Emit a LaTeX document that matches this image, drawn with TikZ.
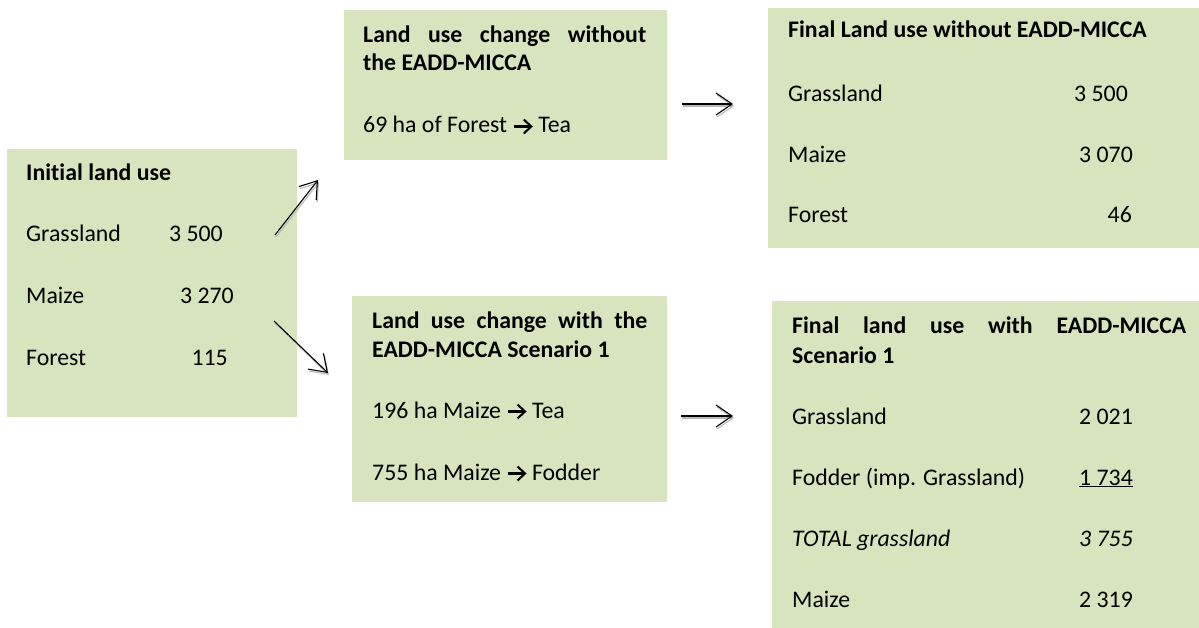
\documentclass[tikz,border=0pt]{standalone}
\usepackage{fontspec}
\setmainfont{Carlito}[Ligatures=NoCommon]
\usetikzlibrary{arrows.meta}
\definecolor{boxgreen}{HTML}{D7E4BD}
\newcommand{\rarr}{\hspace*{6pt}\tikz[x=1pt,y=1pt,baseline=0pt]{\draw[line width=2.1pt, line join=miter] (0,6.5)--(16,6.5); \draw[line width=2.1pt, line join=miter] (9.5,13.5)--(17,6.5)--(9.5,-0.5);}\hspace*{6pt}}
\newcommand{\ulnum}[1]{\underline{#1}}
\begin{document}
\begin{tikzpicture}[x=1pt,y=-1pt,
  box/.style={fill=boxgreen, draw=none, inner sep=0pt, outer sep=0pt, anchor=north west},
  txt/.style={anchor=base west, inner sep=0pt, font=\fontsize{23.8}{28}\selectfont},
  ttl/.style={txt, font=\fontsize{23.8}{28}\selectfont\bfseries},
  itx/.style={txt, font=\fontsize{23.8}{28}\selectfont\itshape},
  num/.style={anchor=base east, inner sep=0pt, font=\fontsize{23.8}{28}\selectfont},
  inum/.style={num, font=\fontsize{23.8}{28}\selectfont\itshape},
  conn/.style={line width=1.1pt, -{Straight Barb[length=16pt,width=22pt]}},
  connshadow/.style={conn, draw=black!28, transform canvas={xshift=1pt,yshift=-2pt}}]
\useasboundingbox (0,0) rectangle (1199,628);

% boxes
\node[box, minimum width=290pt, minimum height=268pt] (A) at (7,149) {};
\node[box, minimum width=323pt, minimum height=150pt] (B) at (344,10) {};
\node[box, minimum width=431pt, minimum height=240pt] (C) at (768,8) {};
\node[box, minimum width=315pt, minimum height=206pt] (D) at (352,296) {};
\node[box, minimum width=427pt, minimum height=327pt] (E) at (772,301) {};

% A texts
\node[ttl] (A0) at (26,181) {Initial land use};
\node[txt] (A1) at (26,242) {Grassland};
\node[txt] (A2) at (26,303) {Maize};
\node[txt] (A3) at (26,365) {Forest};
\node[num] (A1n) at (223,242) {3 500};
\node[num] (A2n) at (234,303) {3 270};
\node[num] (A3n) at (228,365) {115};

% B texts
\node[ttl] (B0) at (363,43) {\makebox[283pt][s]{Land use change without}};
\node[ttl] (B1) at (363,71) {the EADD-MICCA};
\node[txt] (B2) at (363,133) {69 ha of Forest\rarr Tea};

% C texts
\node[ttl] (C0) at (788,38) {Final Land use without EADD-MICCA};
\node[txt] (C1) at (788,102) {Grassland};
\node[txt] (C2) at (788,163) {Maize};
\node[txt] (C3) at (788,223) {Forest};
\node[num] (C1n) at (1128,102) {3 500};
\node[num] (C2n) at (1133,163) {3 070};
\node[num] (C3n) at (1132,223) {46};

% D texts
\node[ttl] (D0) at (372,328) {\makebox[275pt][s]{Land use change with the}};
\node[ttl] (D1) at (372,357) {EADD-MICCA Scenario 1};
\node[txt] (D2) at (372,418) {196 ha Maize\rarr Tea};
\node[txt] (D3) at (372,480) {755 ha Maize\rarr Fodder};

% E texts
\node[ttl] (E0) at (792,333) {\makebox[394pt][s]{Final land use with EADD-MICCA}};
\node[ttl] (E1) at (792,363) {Scenario 1};
\node[txt] (E2) at (792,424) {Grassland};
\node[txt] (E3) at (792,485) {Fodder (imp. Grassland)};
\node[itx] (E4) at (792,546) {TOTAL grassland};
\node[txt] (E5) at (792,607) {Maize};
\node[num] (E2n) at (1133,424) {2 021};
\node[num] (E3n) at (1133,485) {\ulnum{1 734}};
\node[inum] (E4n) at (1133,546) {3 755};
\node[num] (E5n) at (1133,607) {2 319};

% connectors
\coordinate (a1) at (275,235); \coordinate (b1) at (318,180);
\coordinate (a2) at (274,321); \coordinate (d1) at (328,373);
\coordinate (b2) at (682,104); \coordinate (c1) at (733,104);
\coordinate (d2) at (681,416); \coordinate (e1) at (733,416);

\draw[connshadow] (a1) -- (b1);
\draw[connshadow] (a2) -- (d1);
\draw[connshadow] (b2) -- (c1);
\draw[connshadow] (d2) -- (e1);
\draw[conn] (a1) -- (b1);
\draw[conn] (a2) -- (d1);
\draw[conn] (b2) -- (c1);
\draw[conn] (d2) -- (e1);
\end{tikzpicture}
\end{document}
